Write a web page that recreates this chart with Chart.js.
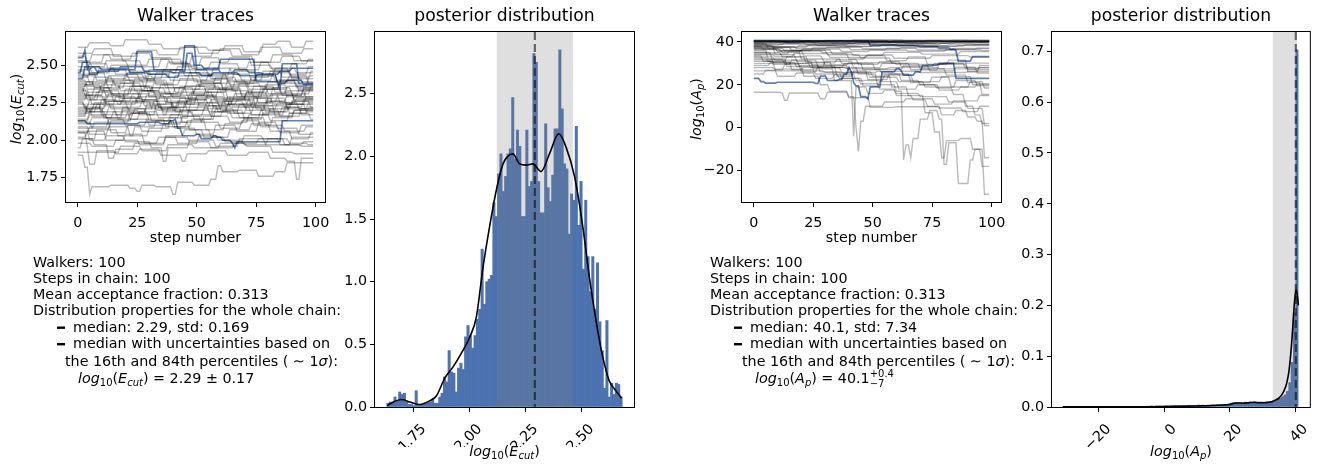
<!DOCTYPE html>
<html>
<head>
<meta charset="utf-8">
<title>MCMC walker traces and posterior distributions</title>
<script src="https://cdn.jsdelivr.net/npm/chart.js@4.4.0/dist/chart.umd.min.js"></script>
<style>
  html, body { margin: 0; padding: 0; background: #ffffff; }
  #wrap { position: relative; width: 1317px; height: 464px; overflow: hidden; background: #ffffff; }
  #wrap canvas { position: absolute; left: 0; top: 0; }
</style>
</head>
<body>
<div id="wrap">
  <canvas id="traceE" width="1317" height="464"></canvas>
  <canvas id="postE" width="1317" height="464"></canvas>
  <canvas id="traceA" width="1317" height="464"></canvas>
  <canvas id="postA" width="1317" height="464"></canvas>
</div>
<script>
// ---------------------------------------------------------------
// Chain summary
// ---------------------------------------------------------------
const nWalkers = 100;
const nSteps = 100;
const acceptanceFraction = '0.313';

// ---------------------------------------------------------------
// log10(E_cut): walker traces, stored as [step, value, step, value, ...]
// (a walker keeps its value until the next listed step)
// ---------------------------------------------------------------
const walkersE = [
  [0,2.31, 4,2.27, 9,2.33, 15,2.30, 22,2.36, 30,2.29, 38,2.25, 47,2.31, 55,2.34, 63,2.28, 71,2.32, 80,2.26, 88,2.30, 95,2.34],
  [0,2.18, 6,2.22, 11,2.15, 19,2.20, 26,2.17, 33,2.24, 41,2.19, 49,2.14, 58,2.21, 66,2.18, 74,2.23, 83,2.16, 91,2.20],
  [0,2.42, 5,2.45, 12,2.39, 20,2.44, 28,2.41, 36,2.47, 45,2.43, 52,2.38, 61,2.44, 69,2.40, 78,2.46, 86,2.42, 94,2.39],
  [0,2.25, 3,2.21, 10,2.27, 17,2.24, 25,2.29, 34,2.22, 42,2.26, 50,2.30, 59,2.24, 67,2.27, 75,2.21, 84,2.25, 92,2.28],
  [0,2.08, 7,2.12, 14,2.05, 21,2.10, 29,2.14, 37,2.09, 46,2.13, 54,2.07, 62,2.11, 70,2.15, 79,2.10, 87,2.06, 96,2.09],
  [0,2.36, 4,2.39, 13,2.34, 18,2.38, 27,2.33, 35,2.37, 43,2.41, 51,2.36, 60,2.33, 68,2.38, 77,2.35, 85,2.40, 93,2.37],
  [0,2.52, 6,2.49, 12,2.53, 21,2.50, 30,2.54, 39,2.51, 48,2.48, 56,2.52, 64,2.55, 73,2.50, 82,2.47, 90,2.51, 97,2.54],
  [0,2.14, 5,2.19, 11,2.23, 16,2.17, 24,2.21, 32,2.26, 40,2.20, 48,2.17, 57,2.23, 65,2.27, 73,2.22, 81,2.19, 89,2.24],
  [0,2.28, 8,2.32, 15,2.26, 23,2.31, 31,2.35, 39,2.30, 47,2.27, 55,2.32, 63,2.36, 72,2.31, 80,2.34, 88,2.29, 96,2.33],
  [0,2.02, 4,2.06, 12,2.00, 20,2.04, 28,1.98, 37,2.03, 45,2.07, 53,2.02, 62,1.99, 70,2.03, 78,2.01, 87,1.97, 95,1.99],
  [0,2.46, 3,2.43, 9,2.48, 16,2.44, 26,2.40, 33,2.45, 42,2.49, 50,2.44, 57,2.41, 66,2.46, 75,2.43, 83,2.48, 92,2.45],
  [0,2.21, 6,2.16, 13,2.12, 22,2.18, 29,2.22, 36,2.17, 44,2.12, 53,2.16, 61,2.20, 70,2.14, 78,2.18, 86,2.22, 94,2.17],
  [0,2.39, 7,2.35, 14,2.31, 23,2.36, 31,2.32, 40,2.28, 49,2.34, 58,2.38, 65,2.33, 74,2.29, 82,2.35, 90,2.31, 98,2.36],
  [0,1.95, 2,2.01, 8,2.07, 17,2.03, 24,2.09, 33,2.13, 41,2.08, 50,2.04, 58,2.10, 67,2.06, 76,2.12, 84,2.08, 93,2.04],
  [0,2.33, 5,2.29, 12,2.24, 19,2.28, 28,2.23, 36,2.19, 45,2.25, 54,2.29, 62,2.24, 71,2.20, 79,2.26, 88,2.21, 97,2.25],
  [0,2.56, 4,2.52, 11,2.57, 19,2.53, 27,2.49, 35,2.54, 44,2.50, 52,2.55, 60,2.51, 68,2.47, 77,2.52, 86,2.56, 94,2.53],
  [0,2.11, 6,2.15, 15,2.19, 22,2.14, 30,2.10, 39,2.15, 47,2.20, 56,2.16, 64,2.12, 72,2.17, 81,2.13, 89,2.18, 98,2.14],
  [0,2.27, 4,2.32, 10,2.37, 18,2.33, 26,2.27, 35,2.31, 43,2.36, 52,2.40, 61,2.35, 69,2.30, 77,2.34, 85,2.38, 93,2.33],
  [0,2.44, 8,2.40, 16,2.36, 24,2.41, 33,2.37, 41,2.32, 50,2.37, 58,2.42, 67,2.38, 75,2.43, 84,2.39, 92,2.35],
  [0,2.05, 5,2.09, 13,2.14, 20,2.10, 27,2.06, 36,2.11, 44,2.16, 52,2.12, 60,2.08, 69,2.13, 77,2.09, 85,2.05, 94,2.10],
  [0,2.35, 3,2.30, 11,2.26, 20,2.31, 27,2.27, 34,2.22, 43,2.28, 51,2.23, 59,2.19, 68,2.24, 76,2.30, 85,2.25, 93,2.21],
  [0,2.49, 6,2.45, 14,2.50, 22,2.46, 31,2.42, 39,2.47, 48,2.43, 57,2.48, 65,2.44, 73,2.40, 82,2.45, 90,2.41, 98,2.46],
  [0,2.16, 4,2.21, 12,2.26, 21,2.21, 29,2.17, 38,2.22, 46,2.27, 55,2.23, 63,2.18, 71,2.23, 80,2.28, 88,2.24, 96,2.19],
  [0,2.30, 7,2.35, 15,2.40, 24,2.36, 32,2.31, 41,2.35, 49,2.30, 58,2.26, 66,2.31, 74,2.36, 83,2.32, 91,2.27],
  [0,2.22, 5,2.27, 13,2.31, 20,2.26, 29,2.30, 37,2.25, 46,2.20, 54,2.25, 63,2.29, 71,2.24, 79,2.19, 88,2.24, 96,2.29],
  [0,2.40, 4,2.36, 12,2.41, 21,2.45, 29,2.40, 38,2.35, 46,2.40, 55,2.44, 63,2.39, 72,2.34, 80,2.39, 89,2.43, 97,2.38],
  [0,2.12, 6,2.08, 14,2.13, 23,2.18, 31,2.13, 40,2.09, 48,2.14, 57,2.19, 65,2.15, 74,2.10, 82,2.15, 91,2.20],
  [0,2.26, 3,2.22, 10,2.17, 19,2.22, 27,2.26, 35,2.21, 44,2.16, 53,2.21, 61,2.26, 70,2.22, 78,2.17, 87,2.22, 95,2.27],
  [0,2.47, 5,2.51, 13,2.47, 21,2.42, 30,2.47, 38,2.52, 47,2.47, 55,2.43, 64,2.48, 72,2.52, 81,2.48, 89,2.44, 97,2.49],
  [0,2.19, 8,2.24, 16,2.29, 25,2.25, 33,2.20, 42,2.24, 50,2.29, 59,2.34, 67,2.29, 76,2.25, 84,2.30, 93,2.34],
  [0,2.34, 4,2.30, 11,2.35, 20,2.40, 28,2.35, 37,2.31, 45,2.36, 54,2.32, 62,2.27, 71,2.32, 79,2.37, 88,2.33, 96,2.28],
  [0,2.09, 5,2.04, 13,2.09, 22,2.03, 30,2.08, 39,2.12, 47,2.07, 56,2.02, 64,2.07, 73,2.11, 81,2.06, 90,2.01, 98,2.05],
  [0,2.53, 6,2.57, 14,2.54, 23,2.58, 31,2.55, 40,2.51, 48,2.56, 57,2.60, 65,2.56, 74,2.52, 82,2.57, 91,2.53],
  [0,2.24, 4,2.19, 12,2.15, 21,2.19, 29,2.24, 38,2.29, 46,2.24, 55,2.19, 63,2.24, 72,2.28, 80,2.23, 89,2.18, 97,2.22],
  [0,2.37, 7,2.42, 15,2.38, 24,2.33, 32,2.38, 41,2.43, 49,2.39, 58,2.34, 66,2.39, 75,2.44, 83,2.40, 92,2.36],
  [0,2.13, 5,2.17, 13,2.22, 22,2.18, 30,2.13, 39,2.17, 47,2.22, 56,2.27, 64,2.22, 73,2.17, 81,2.21, 90,2.26, 98,2.22],
  [0,2.62, 5,2.65, 14,2.63, 20,2.67, 30,2.64, 36,2.61, 45,2.62, 55,2.60, 62,2.63, 70,2.59, 78,2.64, 84,2.66, 90,2.62, 96,2.66],
  [0,2.58, 7,2.61, 15,2.56, 25,2.60, 34,2.57, 43,2.62, 51,2.58, 60,2.61, 69,2.57, 77,2.62, 86,2.58, 95,2.61],
  [0,1.90, 3,1.82, 5,1.64, 6,1.69, 14,1.70, 22,1.68, 25,1.66, 27,1.70, 33,1.69, 40,1.64, 42,1.72, 49,1.70, 56,1.74, 59,1.83, 61,1.79, 68,1.80, 76,1.76, 83,1.79, 88,1.85],
  [0,2.05, 4,1.96, 5,1.84, 8,1.93, 16,1.91, 26,1.94, 35,1.90, 44,1.86, 46,1.91, 55,1.93, 63,1.90, 72,1.92, 81,1.88, 88,1.86, 92,1.74, 94,1.88],
  [0,1.92, 9,1.92, 18,1.96, 27,1.93, 38,1.97, 49,1.95, 60,1.98, 71,1.96, 82,1.92, 91,1.91],
  [0,1.98, 6,1.96, 16,2.00, 26,1.97, 37,2.02, 47,1.99, 56,1.95, 66,1.98, 76,2.01, 85,1.97, 94,1.96],
  [0,2.01, 7,1.97, 13,1.88, 16,1.94, 24,1.98, 34,2.02, 42,1.98, 51,2.03, 59,2.00, 70,1.97, 80,2.01, 89,1.98, 97,1.97],
  [0,2.06, 5,2.00, 12,2.03, 20,1.99, 31,1.95, 36,1.86, 38,1.95, 47,2.00, 58,1.96, 68,2.01, 79,1.97, 90,2.02],
  [0,2.29, 6,2.24, 12,2.30, 18,2.25, 26,2.33, 33,2.28, 40,2.22, 48,2.28, 57,2.22, 64,2.28, 73,2.25, 82,2.31, 91,2.26],
  [0,2.17, 4,2.24, 10,2.19, 17,2.14, 26,2.19, 34,2.15, 43,2.20, 51,2.25, 60,2.20, 68,2.15, 77,2.20, 85,2.16, 94,2.21],
  [0,2.43, 5,2.38, 13,2.43, 22,2.39, 30,2.44, 39,2.40, 47,2.45, 56,2.41, 64,2.37, 73,2.42, 81,2.46, 90,2.42, 98,2.43],
  [0,2.32, 3,2.37, 10,2.33, 18,2.28, 27,2.33, 35,2.29, 44,2.34, 52,2.38, 61,2.34, 69,2.29, 78,2.34, 86,2.30, 95,2.35],
  [0,2.20, 7,2.25, 14,2.21, 23,2.26, 31,2.21, 40,2.26, 48,2.32, 57,2.28, 65,2.23, 74,2.28, 82,2.24, 91,2.29],
  [0,2.38, 4,2.34, 12,2.29, 20,2.34, 29,2.39, 37,2.35, 46,2.30, 54,2.35, 63,2.40, 71,2.36, 80,2.31, 88,2.36, 97,2.41]
];
// highlighted walkers
const walkersEHighlight = [
  [0,2.55, 3,2.60, 4,2.47, 6,2.49, 10,2.47, 25,2.59, 32,2.47, 45,2.63, 50,2.47, 60,2.54, 75,2.39, 85,2.34, 86,2.51, 93,2.38],
  [0,2.41, 3,2.49, 8,2.46, 14,2.48, 22,2.45, 30,2.44, 38,2.42, 43,2.46, 46,2.58, 49,2.50, 53,2.48, 60,2.45, 66,2.47, 72,2.45, 78,2.44, 85,2.46, 90,2.48],
  [0,2.45, 2,2.52, 5,2.44, 9,2.46, 18,2.49, 28,2.46, 40,2.45, 52,2.43, 57,2.45, 68,2.43, 76,2.44, 84,2.38, 88,2.40, 95,2.37],
  [0,2.13, 4,2.11, 26,2.12, 35,2.11, 39,2.13, 41,2.14, 42,2.08, 44,2.03, 50,2.04, 52,2.01, 57,2.03, 59,2.02, 61,2.00, 65,1.98, 66,1.95, 67,1.99, 86,2.13]
];

// log10(E_cut): histogram (density) over 100 bins, and its KDE
const histRangeE = [1.629, 2.680];
const histE = [
  0.03, 0.04, 0.03, 0.08, 0.05, 0.12, 0.10, 0.11, 0.04, 0.02,
  0.02, 0.01, 0.13, 0.02, 0.02, 0.02, 0.03, 0.04, 0.04, 0.06,
  0.03, 0.03, 0.08, 0.11, 0.24, 0.20, 0.45, 0.28, 0.27, 0.12,
  0.31, 0.35, 0.30, 0.56, 0.65, 0.57, 0.47, 0.57, 0.70, 0.78,
  1.26, 0.82, 1.00, 1.02, 1.05, 1.63, 1.52, 1.86, 2.02, 1.72,
  1.84, 2.02, 2.06, 2.47, 1.98, 2.21, 2.08, 1.52, 1.52, 2.21,
  1.76, 1.80, 2.82, 2.75, 1.80, 1.55, 1.55, 2.26, 1.75, 1.64,
  1.85, 2.22, 2.22, 2.85, 2.38, 1.94, 1.90, 1.38, 1.70, 1.65,
  2.24, 1.45, 1.80, 1.10, 1.65, 1.20, 0.92, 1.20, 0.78, 1.15,
  0.68, 0.45, 0.15, 0.69, 0.08, 0.19, 0.10, 0.19, 0.18, 0.08
];
const kdeEx = [1.631, 1.658, 1.695, 1.732, 1.777, 1.821, 1.851, 1.888, 1.925, 1.962, 2.000, 2.029, 2.059, 2.088, 2.118, 2.148, 2.192, 2.222, 2.251, 2.281, 2.318, 2.355, 2.397, 2.430, 2.467, 2.504, 2.533, 2.563, 2.593, 2.622, 2.652, 2.677];
const kdeEy = [0.01, 0.04, 0.06, 0.04, 0.02, 0.05, 0.09, 0.23, 0.32, 0.43, 0.56, 0.72, 1.12, 1.44, 1.73, 1.94, 2.02, 1.94, 1.93, 1.94, 1.88, 2.02, 2.18, 2.07, 1.84, 1.44, 1.04, 0.69, 0.40, 0.21, 0.13, 0.07];
const medianE = 2.29;
const bandE = [2.12, 2.46];          // 16th / 84th percentiles
const stdE = '0.169';
const errE = '0.17';

// ---------------------------------------------------------------
// log10(A_p)
// ---------------------------------------------------------------
const walkersA = [
  [0,40.6, 12,40.4, 30,40.7, 55,40.5, 80,40.3, 92,40.6],
  [0,40.1, 8,40.3, 25,39.9, 47,40.2, 70,40.0, 88,40.4],
  [0,39.8, 15,40.0, 33,39.6, 52,39.9, 76,40.1, 95,39.8],
  [0,39.4, 10,39.7, 28,39.2, 45,39.6, 66,39.3, 85,39.7],
  [0,40.9, 20,40.7, 42,41.0, 63,40.8, 84,40.9],
  [0,39.0, 7,39.4, 22,38.8, 40,39.2, 58,38.9, 79,39.3, 93,39.0],
  [0,38.5, 11,38.9, 27,38.3, 44,38.7, 61,38.2, 82,38.6],
  [0,38.0, 9,37.4, 19,38.2, 35,37.8, 50,38.4, 68,37.9, 86,38.3],
  [0,37.2, 6,37.8, 18,36.9, 31,37.5, 46,36.8, 62,37.3, 78,36.6, 94,37.1],
  [0,36.4, 10,35.8, 21,36.7, 37,35.5, 49,36.2, 65,35.6, 81,36.3, 96,35.9],
  [0,40.3, 14,39.5, 20,40.2, 36,40.5, 57,39.8, 74,40.2, 90,40.0],
  [0,39.6, 5,40.0, 24,39.7, 41,40.1, 60,39.5, 77,39.9, 97,40.2],
  [0,38.8, 13,39.6, 26,39.1, 43,39.8, 64,39.4, 83,39.9],
  [0,35.2, 7,34.4, 15,35.8, 29,34.9, 42,33.8, 55,35.1, 71,34.3, 87,35.5],
  [0,34.0, 9,33.1, 17,34.6, 32,32.8, 48,33.9, 59,32.4, 75,33.6, 91,32.9],
  [0,37.8, 4,36.5, 12,35.0, 20,36.2, 33,34.5, 40,32.0, 47,33.5, 56,31.2, 65,33.0, 73,29.5, 82,31.5, 90,26.0, 95,29.0],
  [0,32.5, 6,31.0, 14,33.0, 23,30.2, 35,31.8, 44,29.5, 53,30.8, 62,28.6, 76,30.0, 89,27.8],
  [0,31.0, 8,29.5, 16,31.5, 27,28.0, 38,29.8, 51,27.2, 63,28.8, 74,26.5, 85,28.2, 94,25.5],
  [0,30.0, 11,30.0, 25,29.2, 40,30.3, 60,29.5, 80,30.1],
  [0,28.0, 9,27.3, 21,28.2, 39,27.5, 57,28.0, 78,27.4, 95,28.1],
  [0,26.5, 12,26.5, 30,25.8, 52,26.3, 70,25.7, 90,26.2],
  [0,25.0, 5,26.8, 10,24.0, 18,25.5, 26,23.0, 34,24.8, 43,22.0, 55,24.5, 67,21.5, 79,23.8, 92,20.0],
  [0,33.5, 4,31.0, 9,27.0, 13,29.5, 20,26.0, 27,28.5, 35,24.0, 42,26.5, 48,22.5, 57,25.0, 66,21.0, 75,23.5, 83,19.0, 91,21.5, 97,18.5],
  [0,16.5, 12,16.0, 13,12.8, 15,16.2, 27,16.0, 28,13.5, 31,16.5, 40,14.0, 49,9.5, 60,9.8, 78,9.2, 88,7.5, 95,10.0],
  [0,36.0, 6,32.0, 14,28.5, 21,24.0, 28,20.0, 32,17.0, 40,14.5, 43,0.0, 44,-11.0, 45,3.0, 47,10.0, 55,12.0, 64,13.5, 76,11.0, 84,12.5, 95,15.0],
  [0,38.0, 9,34.0, 18,31.0, 25,27.5, 34,22.0, 42,-4.0, 43,19.0, 48,16.0, 55,17.5, 60,16.0, 70,14.5, 82,12.0, 90,9.0, 97,1.0],
  [0,35.0, 12,33.0, 22,30.5, 33,28.0, 44,25.0, 52,20.0, 60,17.0, 63,-15.0, 64,-8.0, 66,-14.0, 67,-5.0, 70,4.0, 74,8.0, 78,4.0, 80,-17.0, 82,-7.0, 86,-26.0, 91,-15.0, 93,-10.0, 97,-31.0],
  [0,37.0, 10,35.5, 20,32.0, 30,29.0, 40,26.0, 50,24.0, 58,19.0, 65,15.0, 72,7.0, 76,-2.0, 79,-14.0, 81,-6.0, 87,-5.0, 92,-10.0, 96,-18.0],
  [0,34.5, 8,30.5, 16,27.0, 26,25.0, 36,23.0, 45,20.5, 53,18.0, 60,15.0, 67,13.0, 73,10.0, 79,6.0, 85,8.0, 90,5.0, 94,3.0, 97,-14.0],
  [0,39.2, 6,37.0, 13,36.0, 21,33.5, 29,32.0, 37,30.0, 46,27.0, 54,25.0, 62,22.0, 70,20.0, 77,18.5, 84,15.5, 89,10.0, 93,6.0, 96,2.0],
  [0,37.5, 16,36.0, 31,34.0, 45,32.5, 58,30.0, 70,27.5, 81,24.5, 90,21.0, 96,15.5],
  [0,33.0, 9,31.5, 19,29.0, 28,26.0, 37,23.0, 46,19.5, 53,21.5, 61,18.0, 69,20.0, 78,17.5, 87,19.0, 94,20.5],
  [0,31.8, 13,30.0, 24,28.0, 37,25.5, 49,23.5, 61,21.5, 72,19.0, 85,22.0, 94,19.5],
  [0,29.0, 7,30.5, 18,28.5, 30,31.0, 42,28.0, 54,30.0, 66,27.0, 78,29.5, 90,27.0],
  [0,40.2, 17,40.5, 38,40.1, 59,40.6, 79,40.3],
  [0,40.5, 10,40.2, 31,40.6, 51,40.3, 73,40.7, 91,40.4],
  [0,39.9, 23,40.3, 46,40.0, 69,40.4, 87,40.1],
  [0,38.3, 8,37.6, 23,38.5, 39,37.9, 54,38.6, 72,38.0, 89,38.7],
  [0,36.8, 11,36.0, 25,37.2, 41,36.3, 56,37.0, 69,36.2, 84,36.9]
];
const walkersAHighlight = [
  [0,40.3, 30,40.2, 60,40.3],
  [0,40.5, 49,38.4, 60,38.2, 70,37.8, 78,37.2, 83,36.5, 85,36.0, 86,31.0, 92,33.1],
  [0,23.0, 3,21.5, 5,20.8, 10,21.2, 26,20.6, 28,24.0, 30,24.2, 31,22.0, 36,22.5, 38,25.0, 40,28.0, 41,26.0, 42,21.0, 43,19.5, 45,14.5, 48,13.5, 49,19.0, 54,26.0, 60,27.6, 62,26.5, 63,24.5, 68,26.0, 71,29.0, 78,30.0, 85,23.0]
];

const histRangeA = [-30.7, 40.8];
const histA = [
  0.0006, 0.0001, 0.0003, 0.0000, 0.0004, 0.0008, 0.0003, 0.0001, 0.0002, 0.0004,
  0.0003, 0.0006, 0.0002, 0.0005, 0.0009, 0.0006, 0.0004, 0.0008, 0.0005, 0.0007,
  0.0004, 0.0009, 0.0006, 0.0011, 0.0008, 0.0010, 0.0007, 0.0012, 0.0009, 0.0011,
  0.0010, 0.0013, 0.0009, 0.0012, 0.0015, 0.0011, 0.0014, 0.0018, 0.0013, 0.0017,
  0.0016, 0.0020, 0.0017, 0.0022, 0.0019, 0.0024, 0.0021, 0.0026, 0.0023, 0.0028,
  0.0025, 0.0030, 0.0027, 0.0031, 0.0029, 0.0034, 0.0030, 0.0036, 0.0033, 0.0038,
  0.0035, 0.0040, 0.0037, 0.0043, 0.0039, 0.0046, 0.0042, 0.0050, 0.0047, 0.0055,
  0.0062, 0.0078, 0.0085, 0.0092, 0.0081, 0.0088, 0.0079, 0.0095, 0.0090, 0.0102,
  0.0097, 0.0105, 0.0093, 0.0089, 0.0096, 0.0091, 0.0098, 0.0104, 0.0112, 0.0121,
  0.0135, 0.0152, 0.0178, 0.0205, 0.0240, 0.0310, 0.0480, 0.0880, 0.1850, 0.7030
];
const kdeAx = [-31, -20, -10, 0, 5, 10, 15, 18, 20, 21, 22, 24, 26, 27, 28, 30, 32, 33, 34, 35, 36, 37, 37.5, 38, 38.5, 39, 39.5, 40, 40.3, 40.9];
const kdeAy = [0.0004, 0.0004, 0.0005, 0.0008, 0.0012, 0.002, 0.003, 0.004, 0.005, 0.007, 0.008, 0.0075, 0.0085, 0.009, 0.0088, 0.0085, 0.0095, 0.011, 0.014, 0.018, 0.026, 0.040, 0.052, 0.070, 0.100, 0.140, 0.190, 0.225, 0.230, 0.200];
const medianA = 40.1;
const bandA = [33.1, 40.5];
const stdA = '7.34';
const errAUp = '+0.4';
const errADown = '\u22127';

// axis ticks
const stepTicks = [0, 25, 50, 75, 100];
const traceTicksE = [1.75, 2.00, 2.25, 2.50];
const postXTicksE = [1.75, 2.00, 2.25, 2.50];
const postYTicksE = [0.0, 0.5, 1.0, 1.5, 2.0, 2.5];
const traceTicksA = [-20, 0, 20, 40];
const postXTicksA = [-20, 0, 20, 40];
const postYTicksA = [0.0, 0.1, 0.2, 0.3, 0.4, 0.5, 0.6, 0.7];

// ---------------------------------------------------------------
// styling
// ---------------------------------------------------------------
const SANS = '"DejaVu Sans", "Liberation Sans", sans-serif';
const FS = 14.3;        // body text
const FT = 17.2;        // panel titles
const BLUE = '#4c72b0';
const W = 1317, H = 464;

Chart.defaults.font.family = SANS;
Chart.defaults.font.size = FS;
Chart.defaults.color = '#000';
Chart.defaults.animation = false;

function fontStr(size, italic) { return (italic ? 'italic ' : '') + size + 'px ' + SANS; }
const minus = s => String(s).replace('-', '\u2212');

// rich text: [text, kind] with kind r/i (roman/italic) and optional trailing s (subscript),
// or {sup, sub} for stacked limits
function richWidth(ctx, segs, S) {
  let w = 0;
  for (const g of segs) {
    if (Array.isArray(g)) {
      const small = g[1].endsWith('s');
      ctx.font = fontStr(small ? S * 0.7 : S, g[1][0] === 'i');
      w += ctx.measureText(g[0]).width;
    } else {
      ctx.font = fontStr(S * 0.7, false);
      w += Math.max(ctx.measureText(g.sup).width, ctx.measureText(g.sub).width);
    }
  }
  return w;
}
function drawRich(ctx, segs, x, y, S, align) {
  const w = richWidth(ctx, segs, S);
  let cx = align === 'center' ? x - w / 2 : x;
  ctx.textAlign = 'left';
  ctx.textBaseline = 'alphabetic';
  ctx.fillStyle = '#000';
  for (const g of segs) {
    if (Array.isArray(g)) {
      const small = g[1].endsWith('s');
      ctx.font = fontStr(small ? S * 0.7 : S, g[1][0] === 'i');
      ctx.fillText(g[0], cx, y + (small ? S * 0.22 : 0));
      cx += ctx.measureText(g[0]).width;
    } else {
      ctx.font = fontStr(S * 0.7, false);
      ctx.fillText(g.sup, cx, y - S * 0.40);
      ctx.fillText(g.sub, cx, y + S * 0.32);
      cx += Math.max(ctx.measureText(g.sup).width, ctx.measureText(g.sub).width);
    }
  }
}
function text(ctx, s, x, y, size, align) {
  ctx.font = fontStr(size, false);
  ctx.fillStyle = '#000';
  ctx.textAlign = align || 'left';
  ctx.textBaseline = 'middle';
  ctx.fillText(s, x, y);
}

const labelE = [['log', 'i'], ['10', 'rs'], ['(', 'r'], ['E', 'i'], ['cut', 'is'], [')', 'r']];
const labelA = [['log', 'i'], ['10', 'rs'], ['(', 'r'], ['A', 'i'], ['p', 'is'], [')', 'r']];

// walker runs -> line points (a jump happens between consecutive steps)
function walkerPoints(w) {
  const last = nSteps - 1;
  const pts = [];
  let prev = null;
  for (let k = 0; k < w.length; k += 2) {
    const s = w[k], v = w[k + 1];
    if (prev !== null && s - 1 > pts[pts.length - 1].x) pts.push({ x: s - 1, y: prev });
    pts.push({ x: s, y: v });
    prev = v;
  }
  if (pts[pts.length - 1].x < last) pts.push({ x: last, y: prev });
  return pts;
}
function histPoints(values, range) {
  const bw = (range[1] - range[0]) / values.length;
  return values.map((v, i) => ({ x: range[0] + bw * (i + 0.5), y: v }));
}
function padRange(lo, hi) { const m = 0.05 * (hi - lo); return [lo - m, hi + m]; }

const AXW = 40, AXH = 40;
function areaLayout(area) {
  return { padding: { left: area[0] - AXW, top: area[1], right: W - area[2], bottom: H - area[3] - AXH } };
}
function xScale(min, max, ticks, fmt, rot) {
  return {
    type: 'linear', min, max, offset: false,
    afterFit: s => { s.height = AXH; },
    afterBuildTicks: s => { s.ticks = ticks.map(v => ({ value: v })); },
    grid: { offset: false, drawOnChartArea: false, drawTicks: true, tickLength: 5, color: '#000', lineWidth: 1 },
    border: { display: false },
    ticks: { callback: fmt, padding: rot ? 9 : 7.5, minRotation: rot, maxRotation: rot, autoSkip: false,
             labelOffset: rot ? 10 : 0, font: { size: FS } }
  };
}
function yScale(min, max, ticks, fmt) {
  return {
    type: 'linear', min, max,
    afterFit: s => { s.width = AXW; },
    afterBuildTicks: s => { s.ticks = ticks.map(v => ({ value: v })); },
    grid: { offset: false, drawOnChartArea: false, drawTicks: true, tickLength: 5, color: '#000', lineWidth: 1 },
    border: { display: false },
    ticks: { callback: fmt, padding: 3, autoSkip: false, font: { size: FS } }
  };
}
function frame(ctx, a) {
  ctx.save();
  ctx.strokeStyle = '#000';
  ctx.lineWidth = 1;
  ctx.strokeRect(a.left - 0.5, a.top - 0.5, a.right - a.left + 1, a.bottom - a.top + 1);
  ctx.restore();
}

// info block beside each trace panel
function infoBlock(ctx, x0, medianText, stdText, formulaSegs) {
  text(ctx, 'Walkers: ' + nWalkers, x0, 263, FS);
  text(ctx, 'Steps in chain: ' + nSteps, x0, 279.5, FS);
  text(ctx, 'Mean acceptance fraction: ' + acceptanceFraction, x0, 295.5, FS);
  text(ctx, 'Distribution properties for the whole chain:', x0, 311.5, FS);
  ctx.fillStyle = '#000';
  ctx.fillRect(x0 + 24, 326.5, 8, 2.4);
  ctx.fillRect(x0 + 24, 343, 8, 2.4);
  text(ctx, 'median: ' + medianText + ', std: ' + stdText, x0 + 40, 328, FS);
  text(ctx, 'median with uncertainties based on', x0 + 40, 344.5, FS);
  drawRich(ctx, [['the 16th and 84th percentiles ( \u223C 1', 'r'], ['\u03C3', 'i'], ['):', 'r']], x0 + 32, 365.5, FS, 'left');
  drawRich(ctx, formulaSegs, x0 + 45, 382.5, FS, 'left');
}

// ---------------------------------------------------------------
// trace panels
// ---------------------------------------------------------------
function traceChart(id, area, walkers, highlight, yTicks, yFmt, yLabel, info) {
  const all = walkers.concat(highlight).flatMap(w => w.filter((_, k) => k % 2 === 1));
  const yr = padRange(Math.min(...all), Math.max(...all));
  const xr = padRange(0, nSteps - 1);
  const datasets = walkers.map(w => ({
    data: walkerPoints(w), borderColor: 'rgba(0,0,0,0.27)', borderWidth: 1.4,
    pointRadius: 0, tension: 0, fill: false
  })).concat(highlight.map(w => ({
    data: walkerPoints(w), borderColor: 'rgba(76,114,176,0.9)', borderWidth: 1.7,
    pointRadius: 0, tension: 0, fill: false
  })));
  const cx = (area[0] + area[2]) / 2;
  return new Chart(document.getElementById(id), {
    type: 'line',
    data: { datasets },
    options: {
      responsive: false, devicePixelRatio: 1, animation: false, events: [],
      layout: areaLayout(area),
      plugins: { legend: { display: false }, tooltip: { enabled: false }, title: { display: false } },
      scales: {
        x: xScale(xr[0], xr[1], stepTicks, v => String(v), 0),
        y: yScale(yr[0], yr[1], yTicks, yFmt)
      }
    },
    plugins: [{
      id: 'decor',
      afterDraw(chart) {
        const ctx = chart.ctx, a = chart.chartArea;
        frame(ctx, a);
        text(ctx, 'Walker traces', cx, 16.5, FT, 'center');
        text(ctx, 'step number', cx, 238.5, FS, 'center');
        ctx.save();
        ctx.translate(yLabel.x, (a.top + a.bottom) / 2 - 8);
        ctx.rotate(-Math.PI / 2);
        drawRich(ctx, yLabel.segs, 0, 0, FS, 'center');
        ctx.restore();
        info(ctx);
      }
    }]
  });
}

// ---------------------------------------------------------------
// posterior panels
// ---------------------------------------------------------------
function postChart(id, area, hist, range, kx, ky, band, median, xTicks, xFmt, yTicks, yFmt, xLabel) {
  const xr = padRange(range[0], range[1]);
  const ymax = Math.max(...hist) * 1.05;
  const cx = (area[0] + area[2]) / 2;
  return new Chart(document.getElementById(id), {
    type: 'bar',
    data: {
      datasets: [
        { type: 'bar', data: histPoints(hist, range), backgroundColor: BLUE, borderWidth: 0,
          barPercentage: 1.0, categoryPercentage: 1.0, grouped: false, order: 2 },
        { type: 'line', data: kx.map((x, i) => ({ x, y: ky[i] })), borderColor: '#000', borderWidth: 1.6,
          pointRadius: 0, fill: false, cubicInterpolationMode: 'monotone', order: 1 }
      ]
    },
    options: {
      responsive: false, devicePixelRatio: 1, animation: false, events: [],
      layout: areaLayout(area),
      plugins: { legend: { display: false }, tooltip: { enabled: false }, title: { display: false } },
      scales: {
        x: xScale(xr[0], xr[1], xTicks, xFmt, 45),
        y: yScale(0, ymax, yTicks, yFmt)
      }
    },
    plugins: [{
      id: 'decor',
      afterDatasetDraw(chart, args) {
        if (args.index !== 0) return;
        const ctx = chart.ctx, a = chart.chartArea, xs = chart.scales.x;
        const x0 = xs.getPixelForValue(band[0]), x1 = xs.getPixelForValue(band[1]);
        ctx.save();
        ctx.fillStyle = 'rgba(128,128,128,0.25)';
        ctx.fillRect(x0, a.top, x1 - x0, a.bottom - a.top);
        ctx.restore();
      },
      afterDraw(chart) {
        const ctx = chart.ctx, a = chart.chartArea, xs = chart.scales.x;
        const xm = xs.getPixelForValue(median);
        ctx.save();
        ctx.strokeStyle = 'rgba(0,0,0,0.55)';
        ctx.lineWidth = 2.2;
        ctx.setLineDash([8, 4]);
        ctx.beginPath();
        ctx.moveTo(xm, a.top);
        ctx.lineTo(xm, a.bottom);
        ctx.stroke();
        ctx.restore();
        frame(ctx, a);
        text(ctx, 'posterior distribution', cx, 16.5, FT, 'center');
        drawRich(ctx, xLabel, cx, 455.5, FS, 'center');
      }
    }]
  });
}

const formulaE = labelE.concat([[' = ' + medianE.toFixed(2) + ' \u00B1 ' + errE, 'r']]);
const formulaA = labelA.concat([[' = ' + medianA.toFixed(1), 'r'], { sup: errAUp, sub: errADown }]);

traceChart('traceE', [66, 32, 325, 202], walkersE, walkersEHighlight, traceTicksE, v => v.toFixed(2),
  { x: 20.5, segs: labelE },
  ctx => infoBlock(ctx, 33, medianE.toFixed(2), stdE, formulaE));

postChart('postE', [375, 32, 634, 407], histE, histRangeE, kdeEx, kdeEy, bandE, medianE,
  postXTicksE, v => v.toFixed(2), postYTicksE, v => v.toFixed(1), labelE);

traceChart('traceA', [742, 32, 1001, 202], walkersA, walkersAHighlight, traceTicksA, v => minus(v),
  { x: 701, segs: labelA },
  ctx => infoBlock(ctx, 710, medianA.toFixed(1), stdA, formulaA));

postChart('postA', [1052, 32, 1310, 407], histA, histRangeA, kdeAx, kdeAy, bandA, medianA,
  postXTicksA, v => minus(v), postYTicksA, v => v.toFixed(1), labelA);
</script>
</body>
</html>
